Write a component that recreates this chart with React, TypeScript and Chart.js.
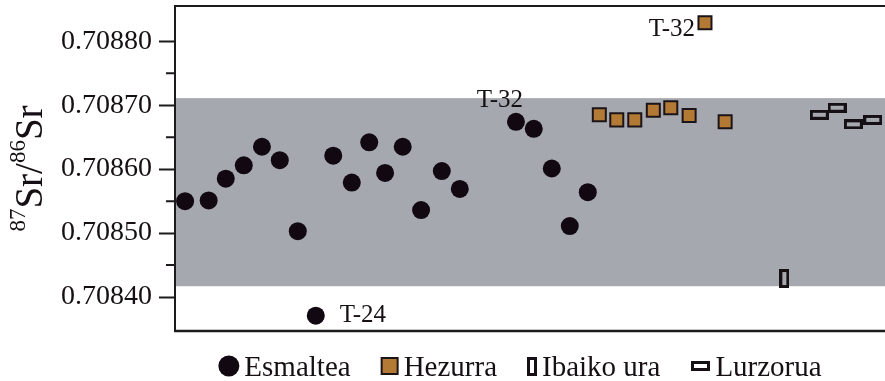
import React, { useEffect, useRef } from "react";
import { Chart, registerables } from "chart.js";

Chart.register(...registerables);

// Sample positions along the profile and measured 87Sr/86Sr ratios
const esmalteaX = [0.56, 1.87, 2.82, 3.82, 4.83, 5.82, 6.82, 7.82, 8.79, 9.82, 10.79, 11.67, 12.65, 13.67, 14.82, 15.82, 18.94, 19.93, 20.93, 21.93, 22.93];
const esmalteaY = [0.70855, 0.708551, 0.708585, 0.708606, 0.708635, 0.708614, 0.708503, 0.708371, 0.708621, 0.708579, 0.708642, 0.708594, 0.708635, 0.708536, 0.708597, 0.708569, 0.708674, 0.708663, 0.708601, 0.708511, 0.708564];

const hezurraX = [23.57, 24.54, 25.54, 26.57, 27.54, 28.56, 29.44, 30.56];
const hezurraY = [0.708685, 0.708677, 0.708677, 0.708692, 0.708696, 0.708684, 0.708829, 0.708674];

const ibaikoX = [33.85];
const ibaikoY = [0.708429];

const lurzoruaX = [35.79, 36.78, 37.68, 38.76];
const lurzoruaY = [0.708685, 0.708696, 0.70867, 0.708677];

const seriesLabels = ["Esmaltea", "Hezurra", "Ibaiko ura", "Lurzorua"];

// Local bioavailable strontium range (shaded band)
const bandMin = 0.708417;
const bandMax = 0.708711;

const yMin = 0.708347;
const yMax = 0.708855;
const xMax = 39.44;
const yMajorTicks = [0.7084, 0.7085, 0.7086, 0.7087, 0.7088];
const yMinorTicks = [0.70845, 0.70855, 0.70865, 0.70875];

// Labelled samples: [series index, point index, text]
const notes: [number, number, string][] = [
  [0, 7, "T-24"],
  [0, 16, "T-32"],
  [1, 6, "T-32"],
];

const INK = "#161014";
const SERIF = '"Liberation Serif", "Times New Roman", serif';

function makeRectStyle(w: number, h: number, lw: number): HTMLCanvasElement {
  const c = document.createElement("canvas");
  c.width = w;
  c.height = h;
  const g = c.getContext("2d")!;
  g.fillStyle = INK;
  // outline built from solid strips so the edges stay crisp
  g.fillRect(0, 0, w, lw);
  g.fillRect(0, h - lw, w, lw);
  g.fillRect(0, 0, lw, h);
  g.fillRect(w - lw, 0, lw, h);
  return c;
}

const toPoints = (xs: number[], ys: number[]) => xs.map((x, i) => ({ x, y: ys[i] }));

const noteLayout: Record<string, { dx: number; dy: number; align: CanvasTextAlign }> = {
  "0-7": { dx: 24, dy: 6, align: "left" },
  "0-16": { dx: -16, dy: -15, align: "center" },
  "1-6": { dx: -10, dy: 13, align: "right" },
};

const bandPlugin = {
  id: "band",
  beforeDatasetsDraw(chart: any) {
    const { ctx, chartArea, scales } = chart;
    const top = scales.y.getPixelForValue(bandMax);
    const bottom = scales.y.getPixelForValue(bandMin);
    ctx.save();
    ctx.fillStyle = "#a5a8af";
    ctx.fillRect(chartArea.left, top, chartArea.right - chartArea.left, bottom - top);
    ctx.restore();
  },
};

const framePlugin = {
  id: "frame",
  afterDraw(chart: any) {
    const { ctx, chartArea, scales } = chart;
    const { left, right, top, bottom } = chartArea;
    ctx.save();
    ctx.strokeStyle = "#1c1a1c";
    ctx.lineWidth = 2;
    ctx.beginPath();
    ctx.moveTo(left, top);
    ctx.lineTo(right, top);
    ctx.moveTo(left, top - 1);
    ctx.lineTo(left, bottom + 1);
    ctx.stroke();
    ctx.lineWidth = 2.5;
    ctx.beginPath();
    ctx.moveTo(left - 1, bottom);
    ctx.lineTo(right, bottom);
    ctx.stroke();
    // minor ticks
    ctx.lineWidth = 2;
    ctx.beginPath();
    yMinorTicks.forEach((v) => {
      const y = scales.y.getPixelForValue(v);
      ctx.moveTo(left - 9, y);
      ctx.lineTo(left, y);
    });
    ctx.stroke();
    ctx.restore();
  },
};

const titlePlugin = {
  id: "yTitle",
  afterDraw(chart: any) {
    const { ctx, chartArea } = chart;
    const cy = (chartArea.top + chartArea.bottom) / 2;
    const big = `39px ${SERIF}`;
    const small = `23px ${SERIF}`;
    const parts: [string, string, number][] = [
      ["87", small, 25],
      ["Sr/", big, 42],
      ["86", small, 25],
      ["Sr", big, 42],
    ];
    ctx.save();
    ctx.fillStyle = INK;
    ctx.textBaseline = "alphabetic";
    ctx.textAlign = "left";
    let total = 0;
    const widths = parts.map(([t, f]) => {
      ctx.font = f;
      const w = ctx.measureText(t).width;
      total += w;
      return w;
    });
    ctx.translate(0, cy);
    ctx.rotate(-Math.PI / 2);
    let x = -total / 2;
    parts.forEach(([t, f, b], i) => {
      ctx.font = f;
      ctx.fillText(t, x, b);
      x += widths[i];
    });
    ctx.restore();
  },
};

const notesPlugin = {
  id: "notes",
  afterDatasetsDraw(chart: any) {
    const { ctx } = chart;
    ctx.save();
    ctx.fillStyle = INK;
    ctx.font = `25px ${SERIF}`;
    ctx.textBaseline = "alphabetic";
    notes.forEach(([ds, idx, text]) => {
      const el = chart.getDatasetMeta(ds).data[idx];
      const lay = noteLayout[`${ds}-${idx}`];
      ctx.textAlign = lay.align;
      ctx.fillText(text, el.x + lay.dx, el.y + lay.dy);
    });
    ctx.restore();
  },
};

const legendPlugin = {
  id: "bottomLegend",
  afterDraw(chart: any) {
    const { ctx } = chart;
    const datasets = chart.data.datasets;
    const markerW = [21, 18, 10, 20];
    const textGap = 5;
    const itemGap = 30;
    const centerX = 520;
    const baseY = 376;
    const markY = 366;
    ctx.save();
    ctx.font = `29px ${SERIF}`;
    const textW = datasets.map((d: any) => ctx.measureText(d.label).width);
    let total = 0;
    datasets.forEach((_: any, i: number) => {
      total += markerW[i] + textGap + textW[i];
    });
    total += itemGap * (datasets.length - 1);
    let x = centerX - total / 2;
    datasets.forEach((d: any, i: number) => {
      const mx = x + markerW[i] / 2;
      const style = d.pointStyle;
      if (style === "circle") {
        ctx.fillStyle = d.backgroundColor;
        ctx.beginPath();
        ctx.arc(mx, markY, 10.5, 0, Math.PI * 2);
        ctx.fill();
      } else if (style === "rect") {
        ctx.fillStyle = d.backgroundColor;
        ctx.fillRect(mx - 8, markY - 8, 16, 16);
        ctx.strokeStyle = d.borderColor;
        ctx.lineWidth = 2;
        ctx.strokeRect(mx - 8, markY - 8, 16, 16);
      } else if (style instanceof HTMLCanvasElement) {
        ctx.drawImage(style, Math.round(mx - style.width / 2), Math.round(markY - style.height / 2));
      }
      x += markerW[i] + textGap;
      ctx.fillStyle = INK;
      ctx.textAlign = "left";
      ctx.textBaseline = "alphabetic";
      ctx.fillText(d.label, x, baseY);
      x += textW[i] + itemGap;
    });
    ctx.restore();
  },
};

export default function App() {
  const canvasRef = useRef<HTMLCanvasElement | null>(null);

  useEffect(() => {
    if (!canvasRef.current) return;
    const riverStyle = makeRectStyle(10, 19, 3);
    const soilStyle = makeRectStyle(19, 10, 3);

    const chart = new Chart(canvasRef.current, {
      type: "scatter",
      data: {
        datasets: [
          {
            label: seriesLabels[0],
            data: toPoints(esmalteaX, esmalteaY),
            pointStyle: "circle",
            pointRadius: 9,
            pointHoverRadius: 9,
            backgroundColor: "#120812",
            borderWidth: 0,
          },
          {
            label: seriesLabels[1],
            data: toPoints(hezurraX, hezurraY),
            pointStyle: "rect",
            pointRadius: 9.2,
            pointHoverRadius: 9.2,
            backgroundColor: "#b27a34",
            borderColor: "#1d1419",
            borderWidth: 2,
          },
          {
            label: seriesLabels[2],
            data: toPoints(ibaikoX, ibaikoY),
            pointStyle: riverStyle as any,
            pointRadius: 10,
            backgroundColor: "rgba(0,0,0,0)",
            borderColor: INK,
          },
          {
            label: seriesLabels[3],
            data: toPoints(lurzoruaX, lurzoruaY),
            pointStyle: soilStyle as any,
            pointRadius: 10,
            backgroundColor: "rgba(0,0,0,0)",
            borderColor: INK,
          },
        ],
      },
      options: {
        responsive: false,
        animation: false,
        events: [],
        layout: { autoPadding: false, padding: { top: 6, bottom: 50, left: 0, right: 0 } },
        plugins: {
          legend: { display: false },
          tooltip: { enabled: false },
          title: { display: false },
        },
        scales: {
          x: {
            type: "linear",
            min: 0,
            max: xMax,
            display: false,
          },
          y: {
            type: "linear",
            min: yMin,
            max: yMax,
            border: { display: false },
            grid: {
              drawOnChartArea: false,
              drawTicks: true,
              tickLength: 16,
              tickWidth: 2,
              tickColor: "#1c1a1c",
            },
            ticks: {
              padding: 7,
              color: INK,
              font: { family: SERIF, size: 28 },
              callback: (v: any) => Number(v).toFixed(5),
            },
            afterBuildTicks: (scale: any) => {
              scale.ticks = yMajorTicks.map((value) => ({ value }));
            },
            afterFit: (scale: any) => {
              scale.width = 175;
              scale.paddingTop = 0;
              scale.paddingBottom = 0;
            },
          },
        },
      },
      plugins: [bandPlugin, framePlugin, titlePlugin, notesPlugin, legendPlugin],
    });
    return () => chart.destroy();
  }, []);

  return (
    <div style={{ position: "fixed", left: 0, top: 0, width: 885, height: 381, background: "#ffffff" }}>
      <canvas ref={canvasRef} width={885} height={381} style={{ display: "block" }} />
    </div>
  );
}
